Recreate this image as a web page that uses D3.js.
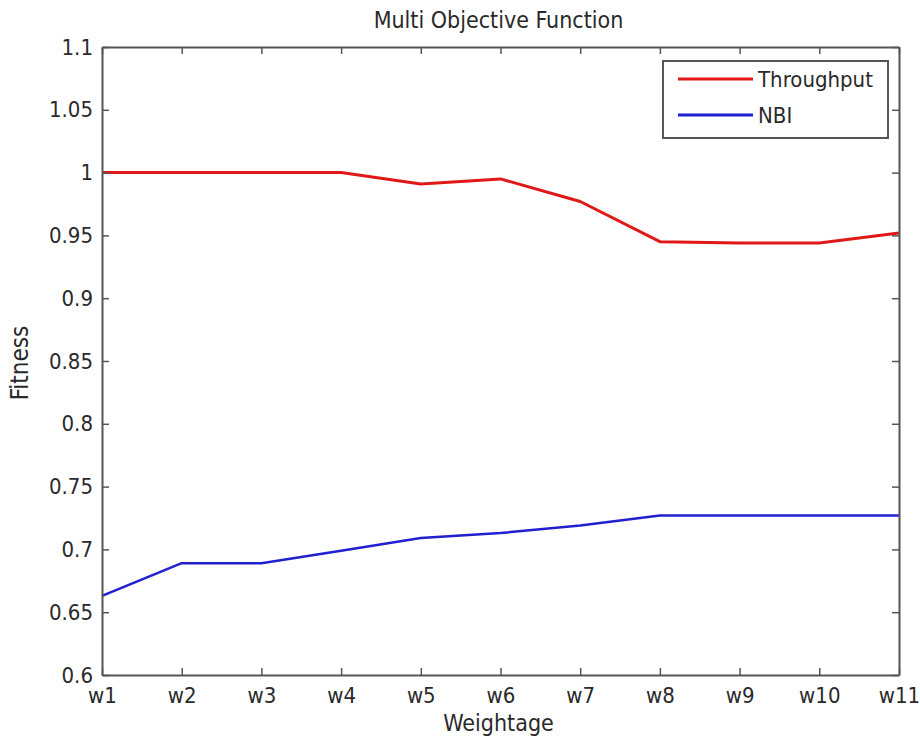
<!DOCTYPE html>
<html>
<head>
<meta charset="utf-8">
<script src="https://cdn.jsdelivr.net/npm/d3@7"></script>
<style>
  body { margin: 0; background: #fff; }
  text { font-family: "DejaVu Sans Condensed", "DejaVu Sans", sans-serif; font-stretch: condensed; fill: #2a2a2a; }
</style>
</head>
<body>
<div class="Canvas"></div>
<script>
// Categories on the x axis
const categories = ['w1', 'w2', 'w3', 'w4', 'w5', 'w6', 'w7', 'w8', 'w9', 'w10', 'w11'];
// Series values
const throughput = [1.0, 1.0, 1.0, 1.0, 0.991, 0.995, 0.977, 0.945, 0.944, 0.944, 0.952];
const nbi = [0.663, 0.689, 0.689, 0.699, 0.709, 0.713, 0.719, 0.727, 0.727, 0.727, 0.727];
const yTicks = [0.6, 0.65, 0.7, 0.75, 0.8, 0.85, 0.9, 0.95, 1, 1.05, 1.1];
const seriesNames = ['Throughput', 'NBI'];
const seriesColors = ['#e01818', '#2020d0'];

const width = 920, height = 744;
const margin = { left: 102, right: 21, top: 47, bottom: 69 };
const axisColor = '#555';
const fontSize = '22px';

const svg = d3.select('.Canvas').append('svg').attr('width', width).attr('height', height);

const x = d3.scalePoint().domain(categories).range([margin.left, width - margin.right]);
const y = d3.scaleLinear().domain([0.6, 1.1]).range([height - margin.bottom, margin.top]);

// Lines first, axes frame drawn over them
const line = d3.line().x((d, i) => x(categories[i])).y((d) => y(d));
[throughput, nbi].forEach((s, i) => {
    svg.append('path')
        .datum(s)
        .attr('fill', 'none')
        .attr('stroke', seriesColors[i])
        .attr('stroke-width', i == 0 ? 3 : 2.5)
        .attr('stroke-linejoin', 'round')
        .attr('d', line);
});

// Axes: ticks pointing inwards, box on all sides
const tickLen = 7;
const styleAxis = (g) => {
    g.select('.domain').attr('stroke', axisColor).attr('stroke-width', 2);
    g.selectAll('.tick line').attr('stroke', axisColor).attr('stroke-width', 1.5);
};

svg.append('g')
    .attr('transform', `translate(0,${height - margin.bottom})`)
    .call(d3.axisBottom(x).tickSize(-tickLen).tickSizeOuter(0).tickPadding(12))
    .call(styleAxis)
    .call((g) => g.selectAll('.tick text').attr('font-size', fontSize).attr('fill', '#2a2a2a').attr('font-family', null));

svg.append('g')
    .attr('transform', `translate(0,${margin.top})`)
    .call(d3.axisTop(x).tickSize(-tickLen).tickSizeOuter(0).tickFormat(''))
    .call(styleAxis);

svg.append('g')
    .attr('transform', `translate(${margin.left},0)`)
    .call(d3.axisLeft(y).tickValues(yTicks).tickSize(-tickLen).tickSizeOuter(0).tickPadding(9).tickFormat((d) => String(+d.toFixed(2))))
    .call(styleAxis)
    .call((g) => g.selectAll('.tick text').attr('font-size', fontSize).attr('fill', '#2a2a2a'));

svg.append('g')
    .attr('transform', `translate(${width - margin.right},0)`)
    .call(d3.axisRight(y).tickValues(yTicks).tickSize(-tickLen).tickSizeOuter(0).tickFormat(''))
    .call(styleAxis);

// d3 axes set a font-family on their group; let the page style win
svg.selectAll('g').attr('font-family', null);

// Title and axis labels
const cx = (margin.left + width - margin.right) / 2;
svg.append('text').attr('x', cx - 2).attr('y', 28).attr('text-anchor', 'middle')
    .attr('font-size', '23px').text('Multi Objective Function');
svg.append('text').attr('x', cx - 2).attr('y', 731).attr('text-anchor', 'middle')
    .attr('font-size', '23px').text('Weightage');
svg.append('text').attr('transform', `translate(28,363) rotate(-90)`)
    .attr('text-anchor', 'middle').attr('font-size', '24px').text('Fitness');

// Legend
const legend = svg.append('g').attr('transform', 'translate(663,61)');
legend.append('rect').attr('width', 225).attr('height', 77)
    .attr('fill', '#fff').attr('stroke', axisColor).attr('stroke-width', 2);
seriesNames.forEach((name, i) => {
    const ly = 18 + i * 36;
    legend.append('line').attr('x1', 15).attr('x2', 90).attr('y1', ly).attr('y2', ly)
        .attr('stroke', seriesColors[i]).attr('stroke-width', 3);
    legend.append('text').attr('x', 95).attr('y', ly + 8).attr('font-size', fontSize).text(name);
});
</script>
</body>
</html>
